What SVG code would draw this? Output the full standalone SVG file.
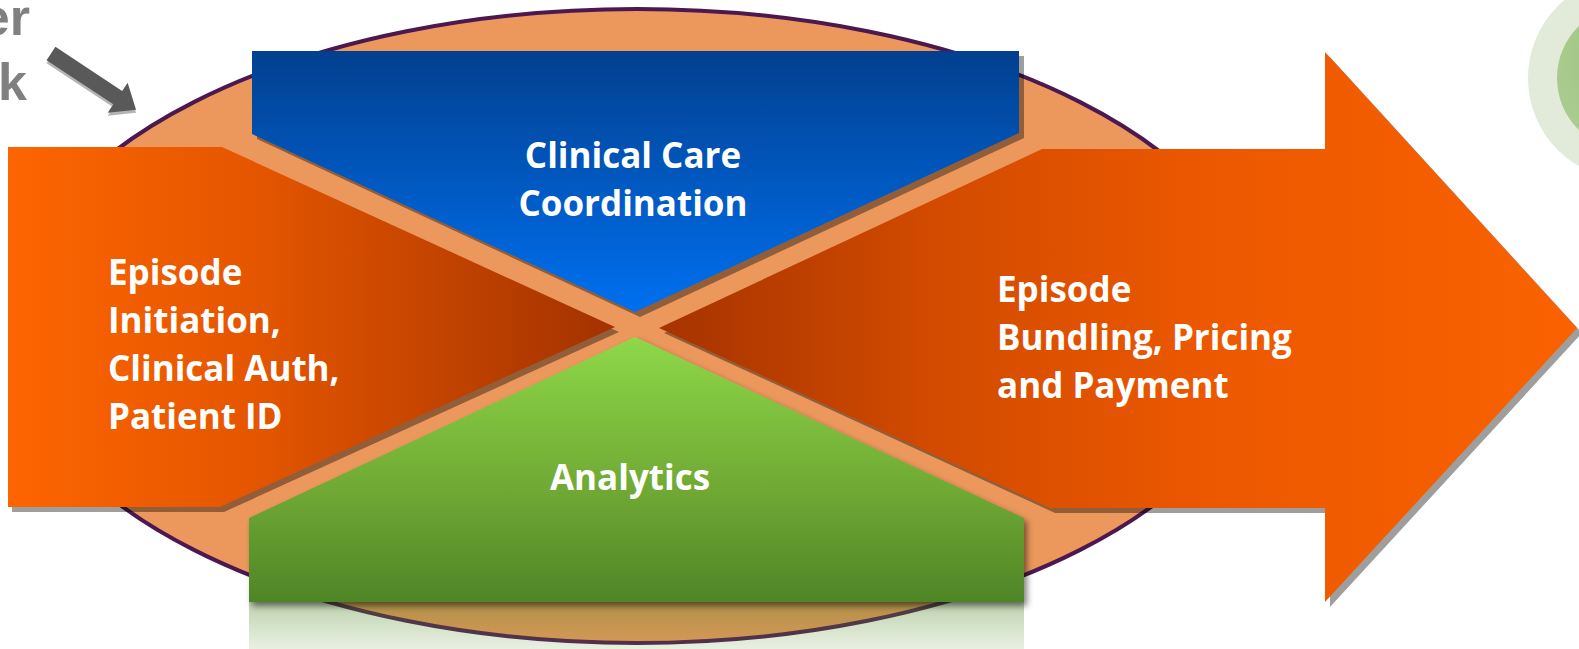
<svg xmlns="http://www.w3.org/2000/svg" width="1579" height="649" viewBox="0 0 1579 649">
<defs>
<linearGradient id="gLeft" gradientUnits="userSpaceOnUse" x1="8" y1="0" x2="615" y2="0">
<stop offset="0" stop-color="#fd6500"/><stop offset="0.4" stop-color="#e55600"/><stop offset="1" stop-color="#a33200"/>
</linearGradient>
<linearGradient id="gRight" gradientUnits="userSpaceOnUse" x1="659" y1="0" x2="1577" y2="0">
<stop offset="0" stop-color="#a63300"/><stop offset="0.3" stop-color="#d24b00"/><stop offset="0.6" stop-color="#ec5800"/><stop offset="1" stop-color="#fa6200"/>
</linearGradient>
<linearGradient id="gBlue" gradientUnits="userSpaceOnUse" x1="0" y1="51" x2="0" y2="312">
<stop offset="0" stop-color="#02408f"/><stop offset="1" stop-color="#0070f0"/>
</linearGradient>
<linearGradient id="gGreen" gradientUnits="userSpaceOnUse" x1="0" y1="337" x2="0" y2="602">
<stop offset="0" stop-color="#8ed849"/><stop offset="0.6" stop-color="#6ea733"/><stop offset="1" stop-color="#4f8527"/>
</linearGradient>
<linearGradient id="gRefl" gradientUnits="userSpaceOnUse" x1="0" y1="602" x2="0" y2="649">
<stop offset="0" stop-color="#4f8527" stop-opacity="0.38"/><stop offset="1" stop-color="#6a9a3a" stop-opacity="0.15"/>
</linearGradient>
<radialGradient id="gCircle" cx="1630" cy="60" r="80" gradientUnits="userSpaceOnUse">
<stop offset="0" stop-color="#9cc47c"/><stop offset="1" stop-color="#aacb90"/>
</radialGradient>
<filter id="soft" x="-10%" y="-10%" width="120%" height="130%">
<feGaussianBlur in="SourceAlpha" stdDeviation="3"/>
<feOffset dx="3" dy="4" result="b"/>
<feComponentTransfer><feFuncA type="linear" slope="0.5"/></feComponentTransfer>
<feMerge><feMergeNode/><feMergeNode in="SourceGraphic"/></feMerge>
</filter>
</defs>
<style>
.shadow{fill:#000;fill-opacity:0.38}
.lbl{font-family:"Open Sans","Noto Sans","DejaVu Sans",sans-serif;font-weight:700;font-size:35px;fill:#fff}
.side{font-family:"Liberation Sans",Arial,sans-serif;font-weight:700;font-size:52px;fill:#808080}
</style>

<g id="decor-circle">
<circle cx="1630" cy="78" r="102" fill="#e2ebd9"/>
<circle cx="1630" cy="78" r="73" fill="url(#gCircle)"/>
</g>

<g id="side-label">
<text class="side" x="30" y="35" text-anchor="end">er</text>
<text class="side" x="27" y="100" text-anchor="end">k</text>
</g>

<g id="pointer-arrow">
<g transform="translate(51,56.5) rotate(33.5)">
<polygon points="0,-8 80,-8 80,-18 102,0 80,18 80,8 0,8" fill="#b4b4b4"/>
</g>
<g transform="translate(51,53.5) rotate(33.5)">
<polygon points="0,-8 80,-8 80,-18 102,0 80,18 80,8 0,8" fill="#595959"/>
</g>
</g>

<g id="ellipse">
<ellipse cx="637" cy="326" rx="626" ry="317" fill="#ec975c" stroke="#4b1850" stroke-width="4"/>
</g>

<g id="episode-initiation">
<polygon class="shadow" transform="translate(4,5)" points="8,147 222,147 615,327 220,507 8,507"/>
<polygon points="8,147 222,147 615,327 220,507 8,507" fill="url(#gLeft)"/>
<text class="lbl" x="108"><tspan x="108" y="285">Episode</tspan><tspan x="108" y="333">Initiation,</tspan><tspan x="108" y="381">Clinical Auth,</tspan><tspan x="108" y="429">Patient ID</tspan></text>
</g>

<g id="episode-bundling">
<polygon class="shadow" transform="translate(5,5)" points="659,328 1042,149 1325,149 1325,52 1577,328 1325,602 1325,508 1050,508"/>
<polygon points="659,328 1042,149 1325,149 1325,52 1577,328 1325,602 1325,508 1050,508" fill="url(#gRight)"/>
<text class="lbl"><tspan x="997" y="302">Episode</tspan><tspan x="997" y="350">Bundling, Pricing</tspan><tspan x="997" y="398">and Payment</tspan></text>
</g>

<g id="clinical-care">
<polygon class="shadow" transform="translate(5,5)" points="252,51 1019,51 1019,133 635,312 252,134"/>
<polygon points="252,51 1019,51 1019,133 635,312 252,134" fill="url(#gBlue)"/>
<text class="lbl" text-anchor="middle"><tspan x="633" y="168">Clinical Care</tspan><tspan x="633" y="216">Coordination</tspan></text>
</g>

<g id="analytics">
<rect x="249" y="602" width="775" height="47" fill="url(#gRefl)"/>
<polygon points="635,337 1024,518 1024,602 249,602 249,518" fill="url(#gGreen)" filter="url(#soft)"/>
<text class="lbl" x="630" y="490" text-anchor="middle">Analytics</text>
</g>
</svg>
